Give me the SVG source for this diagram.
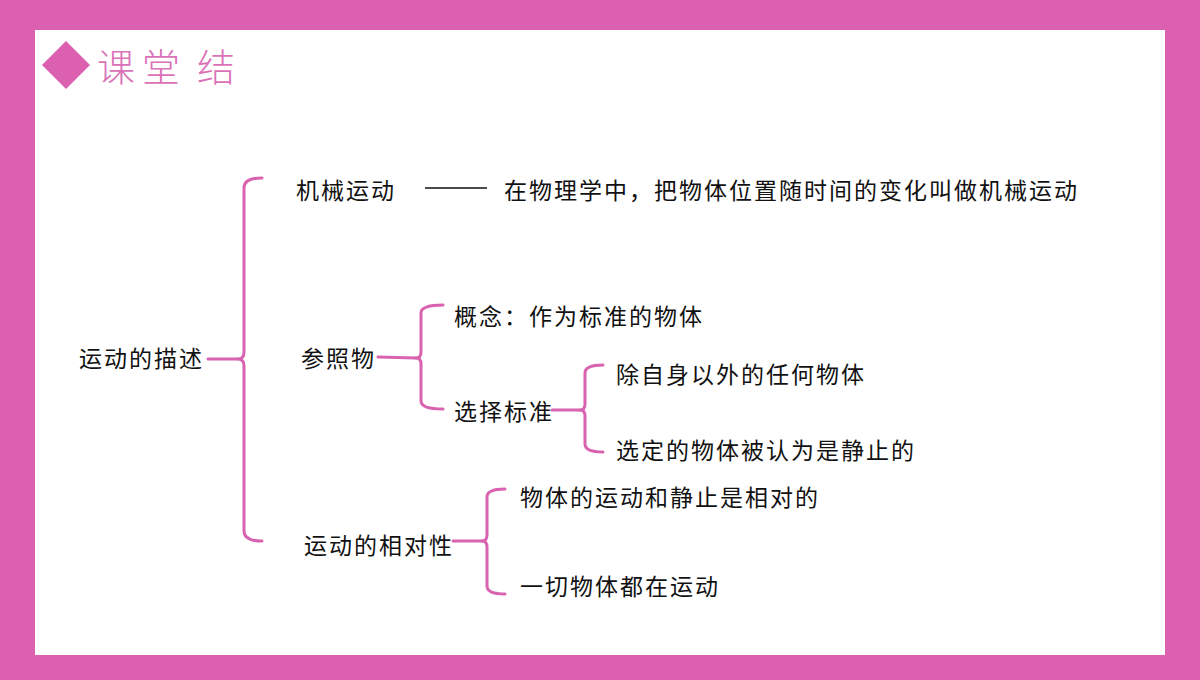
<svg xmlns="http://www.w3.org/2000/svg" width="1200" height="680" viewBox="0 0 1200 680">
<style>
.t{font-family:"Noto Sans CJK SC","Liberation Sans",sans-serif;font-size:23px;fill:#111;letter-spacing:2px}
.b{fill:none;stroke:#D963B0;stroke-width:3;stroke-linecap:round;stroke-linejoin:round}
.h{font-family:"Noto Sans CJK SC","Liberation Serif",serif;font-size:38px;fill:#DA72B8;font-weight:300}
</style>
<rect x="0" y="0" width="1200" height="680" fill="#DC60B0"/>
<rect x="35" y="30" width="1130" height="625" fill="#FFFFFF"/>
<g id="title">
<polygon points="42,65 66,41 90,65 66,89" fill="#DC60B0"/>
<text class="h" x="97" y="81">课</text>
<text class="h" x="142" y="81">堂</text>
<text class="h" x="197" y="81">结</text>
</g>
<g id="connectors">
<path class="b" d="M262,178 Q244,178 244,188 L244,352 Q244,359 238,359 Q244,359 244,366 L244,531 Q244,541 262,541"/>
<path class="b" d="M208,359 L238,359"/>
<line x1="425" y1="188" x2="487" y2="188" stroke="#111" stroke-width="1.5"/>
<path class="b" d="M443,305 Q421,305 421,313 L421,352 Q421,358 416,358 Q421,358 421,364 L421,401 Q421,409 443,409"/>
<path class="b" d="M378,357 L416,358"/>
<path class="b" d="M603,365 Q585,365 585,373 L585,404 Q585,410 580,410 Q585,410 585,416 L585,444 Q585,452 603,452"/>
<path class="b" d="M552,410 L580,410"/>
<path class="b" d="M505,489 Q487,489 487,497 L487,535 Q487,541 482,541 Q487,541 487,547 L487,586 Q487,594 505,594"/>
<path class="b" d="M453,541 L482,541"/>
</g>
<g id="n-root"><text class="t" x="79" y="367">运动的描述</text></g>
<g id="n-jixie"><text class="t" x="296" y="199">机械运动</text></g>
<g id="n-jixie-def"><text class="t" x="504" y="199">在物理学中，把物体位置随时间的变化叫做机械运动</text></g>
<g id="n-canzhao"><text class="t" x="301" y="367">参照物</text></g>
<g id="n-gainian"><text class="t" x="454" y="325">概念：作为标准的物体</text></g>
<g id="n-xuanze"><text class="t" x="454" y="420">选择标准</text></g>
<g id="n-chu"><text class="t" x="616" y="383">除自身以外的任何物体</text></g>
<g id="n-xuanding"><text class="t" x="616" y="459">选定的物体被认为是静止的</text></g>
<g id="n-xiangdui"><text class="t" x="304" y="554">运动的相对性</text></g>
<g id="n-wuti"><text class="t" x="520" y="506">物体的运动和静止是相对的</text></g>
<g id="n-yiqie"><text class="t" x="520" y="595">一切物体都在运动</text></g>
</svg>
